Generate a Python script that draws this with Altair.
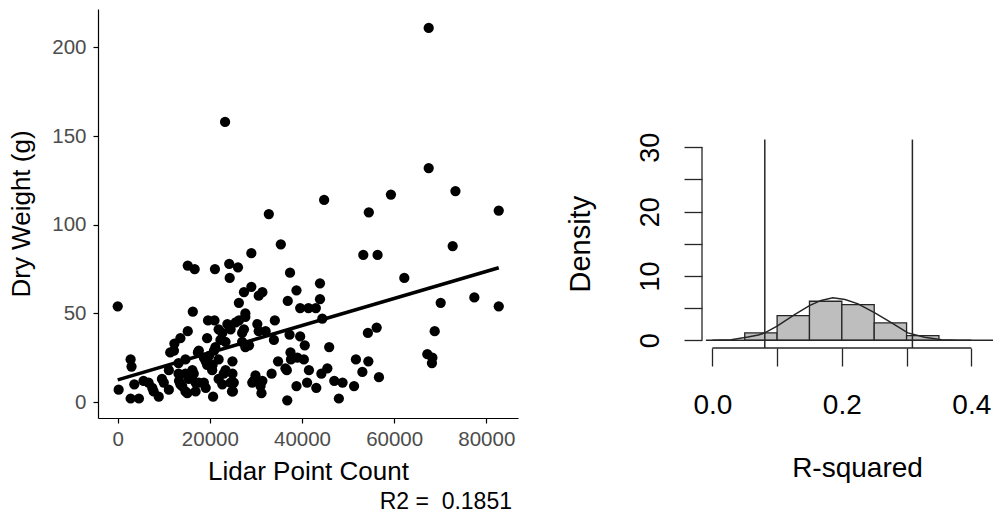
import altair as alt
import pandas as pd

FONT = "Liberation Sans"

# ---------------- Left panel: scatter of dry weight vs lidar point count
lidar_count = [
    67500, 23300, 67500, 73300, 44800, 59300, 32800, 54500, 82700, 35400,
    72700, 29000, 53300, 56400, 15200, 16700, 21100, 24200, 26100, 24300,
    37400, 62200, 43900, 29000, 27400, 38800, 31400, 30600, 26300, 36900,
    43900, 70100, 77400, 0, 82700, 16300, 39600, 41400, 43000, 44400,
    27700, 25600, 19600, 21000, 23800, 30300, 34100, 15200, 32100, 24500,
    22700, 56200, 54300, 68800, 19400, 13600, 33900, 37300, 39600, 40600,
    27700, 12300, 11400, 17400, 45900, 37500, 39000, 40400, 67200, 68300,
    68200, 2800, 3000, 34800, 51700, 54400, 24900, 19100, 20600, 45500,
    53100, 56700, 41500, 36700, 33400, 29900, 44200, 47000, 48800, 51300,
    41100, 38800, 43100, 36800, 48000, 31200, 20700, 25000, 200, 2800,
    4600, 3600, 5600, 7500, 8900, 10000, 11100, 13300, 14700, 14700,
    16200, 16900, 18700, 19100, 22700, 23000, 24900, 25200, 29200, 31400,
    20500, 11100, 13600, 21200, 18700, 22300, 27000, 30600, 27700, 12200,
    21900, 23400, 17600, 19800, 20900, 6700, 7800, 9600, 15400, 14000,
    15100, 16500, 17600, 16900, 21900, 23400, 24500, 24800, 19400, 21900,
    14700, 13200, 26300, 27400, 28500, 27000, 37600, 36400, 29500, 31000,
    13200,
]
dry_weight = [
    211, 158, 132, 119, 114, 117, 106, 107, 108, 89,
    88, 84, 83, 83, 77, 75, 75, 78, 76, 70,
    73, 70, 67, 65, 62, 63, 62, 60, 56, 57,
    58, 56, 59, 54, 54, 51, 53, 53, 53, 47,
    48, 45, 46, 46, 44, 44, 46, 40, 40, 41,
    39, 42, 39, 40, 36, 36, 35, 38, 37, 32,
    31, 33, 28, 28, 31, 28, 25, 24, 27, 25,
    22, 24, 20, 23, 24, 23, 23, 23, 21, 19,
    17, 14, 18, 18, 16, 15, 16, 12, 11, 9,
    11, 9, 8, 1, 2, 5, 3, 6, 7, 2,
    2, 10, 12, 8, 3, 11, 7, 12, 6, 16,
    18, 11, 11, 8, 10, 16, 16, 11, 11, 12,
    18, 18, 10, 31, 25, 35, 39, 40, 50, 29,
    41, 34, 29, 26, 29, 11, 6, 13, 13, 9,
    5, 16, 11, 6, 13, 18, 11, 6, 21, 24,
    24, 22, 46, 41, 32, 34, 24, 19, 12, 9,
    16,
]
fit_x = [0, 82700]
fit_y = [12.5, 75.8]
r2_caption = "R2 =\u00a0 0.1851"
left_x_ticks = [0, 20000, 40000, 60000, 80000]
left_y_ticks = [0, 50, 100, 150, 200]

# ---------------- Right panel: bootstrap R-squared histogram
bin_start = [0.05, 0.10, 0.15, 0.20, 0.25, 0.30]
bin_end = [0.10, 0.15, 0.20, 0.25, 0.30, 0.35]
bin_density = [1.15, 3.84, 6.07, 5.55, 2.70, 0.73]
curve_x = [0.0, 0.029, 0.055, 0.071, 0.081, 0.10, 0.127, 0.150, 0.168, 0.186,
           0.205, 0.225, 0.251, 0.277, 0.302, 0.328, 0.354, 0.38, 0.40]
curve_y = [0.02, 0.1, 0.5, 0.83, 1.15, 2.2, 4.0, 5.4, 6.2, 6.6,
           6.33, 5.66, 4.26, 2.7, 1.15, 0.47, 0.1, 0.02, 0.0]
ci_bounds = [0.081, 0.309]
plot_region_y = [-1.2, 31.2]
zero_line_x = [-0.01, 0.4335]
right_x_ticks = [0.0, 0.1, 0.2, 0.3, 0.4]
right_y_ticks = [0, 5, 10, 15, 20, 25, 30]

# ---------------- data frames
scatter_df = pd.DataFrame({"x": lidar_count, "y": dry_weight})
fit_df = pd.DataFrame({"x": fit_x, "y": fit_y})
hist_df = pd.DataFrame({"x1": bin_start, "x2": bin_end, "d": bin_density})
curve_df = pd.DataFrame({"x": curve_x, "y": curve_y})
ci_df = pd.DataFrame({"x": ci_bounds, "y1": [plot_region_y[0]] * 2, "y2": [plot_region_y[1]] * 2})
zero_df = pd.DataFrame({"x1": [zero_line_x[0]], "x2": [zero_line_x[1]], "y": [0]})
xaxis_line_df = pd.DataFrame({"x1": [right_x_ticks[0]], "x2": [right_x_ticks[-1]], "y": [plot_region_y[0]]})
yaxis_line_df = pd.DataFrame({"x": [-0.016], "y1": [right_y_ticks[0]], "y2": [right_y_ticks[-1]]})

# ---------------- left chart
lx_scale = alt.Scale(domain=[-4280, 86880], nice=False, zero=False)
ly_scale = alt.Scale(domain=[-9, 221.7], nice=False, zero=False)

lx_axis = alt.Axis(
    values=left_x_ticks, format="d", title="Lidar Point Count", grid=False,
    domainColor="black", domainWidth=1.2, tickColor="black", tickWidth=1.2, tickSize=5,
    labelColor="#4d4d4d", labelFont=FONT, labelFontSize=20.5, labelBaseline="alphabetic",
    labelPadding=22.7, labelFlush=False,
    titleFont=FONT, titleFontSize=26, titleFontWeight="normal", titleColor="black",
    titleBaseline="alphabetic", titleY=61.7,
)
ly_axis = alt.Axis(
    values=left_y_ticks, title="Dry Weight (g)", grid=False,
    domainColor="black", domainWidth=1.2, tickColor="black", tickWidth=1.2, tickSize=5,
    labelColor="#4d4d4d", labelFont=FONT, labelFontSize=20.5, labelPadding=7,
    labelFlush=False,
    titleFont=FONT, titleFontSize=26, titleFontWeight="normal", titleColor="black",
    titleBaseline="middle", titleX=-77, titleY=204.5,
)

points = alt.Chart(scatter_df).mark_circle(size=105, color="black", opacity=1).encode(
    x=alt.X("x:Q", scale=lx_scale, axis=lx_axis),
    y=alt.Y("y:Q", scale=ly_scale, axis=ly_axis),
)
fit_line = alt.Chart(fit_df).mark_line(color="black", strokeWidth=3.6).encode(
    x=alt.X("x:Q", scale=lx_scale),
    y=alt.Y("y:Q", scale=ly_scale),
)
left = alt.layer(points, fit_line).properties(
    width=420, height=409,
    title=alt.TitleParams(
        r2_caption, orient="bottom", anchor="end", font=FONT, fontSize=23,
        fontWeight="normal", color="black", offset=6, dx=-6,
    ),
)

# ---------------- right chart
rx_scale = alt.Scale(domain=[-0.016, 0.4335], nice=False, zero=False)
ry_scale = alt.Scale(domain=[-1.2, 51.5], nice=False, zero=False)
DARK = "#262626"

rx_axis = alt.Axis(
    values=right_x_ticks, title="R-squared", grid=False, domain=False,
    tickColor=DARK, tickWidth=1.3, tickSize=18,
    labelExpr="(round(datum.value * 10) % 2 == 0) ? format(datum.value, '.1f') : ''",
    labelColor="black", labelFont=FONT, labelFontSize=28, labelBaseline="alphabetic",
    labelPadding=47, labelFlush=False,
    titleFont=FONT, titleFontSize=28, titleFontWeight="normal", titleColor="black",
    titleBaseline="alphabetic", titleX=155, titleY=128,
)
ry_axis = alt.Axis(
    values=right_y_ticks, title="Density", grid=False, domain=False,
    tickColor=DARK, tickWidth=1.3, tickSize=18,
    labelExpr="(datum.value % 10 == 0) ? datum.label : ''",
    labelAngle=270, labelAlign="center", labelBaseline="alphabetic",
    labelColor="black", labelFont=FONT, labelFontSize=27, labelPadding=26,
    labelFlush=False,
    titleFont=FONT, titleFontSize=29, titleFontWeight="normal", titleColor="black",
    titleBaseline="middle", titleX=-122, titleY=234.7,
)

bars = alt.Chart(hist_df).mark_rect(color="#bebebe", stroke=DARK, strokeWidth=1.3).encode(
    x=alt.X("x1:Q", scale=rx_scale, axis=rx_axis),
    x2="x2:Q",
    y=alt.Y("d:Q", scale=ry_scale, axis=ry_axis),
    y2=alt.datum(0),
)
curve = alt.Chart(curve_df).mark_line(color=DARK, strokeWidth=1.5).encode(
    x=alt.X("x:Q", scale=rx_scale),
    y=alt.Y("y:Q", scale=ry_scale),
)
zero_line = alt.Chart(zero_df).mark_rule(color=DARK, strokeWidth=1.4).encode(
    x=alt.X("x1:Q", scale=rx_scale), x2="x2:Q", y=alt.Y("y:Q", scale=ry_scale),
)
ci_lines = alt.Chart(ci_df).mark_rule(color=DARK, strokeWidth=1.5).encode(
    x=alt.X("x:Q", scale=rx_scale), y=alt.Y("y1:Q", scale=ry_scale), y2="y2:Q",
)
x_axis_line = alt.Chart(xaxis_line_df).mark_rule(color=DARK, strokeWidth=1.3).encode(
    x=alt.X("x1:Q", scale=rx_scale), x2="x2:Q", y=alt.Y("y:Q", scale=ry_scale),
)
y_axis_line = alt.Chart(yaxis_line_df).mark_rule(color=DARK, strokeWidth=1.3).encode(
    x=alt.X("x:Q", scale=rx_scale), y=alt.Y("y1:Q", scale=ry_scale), y2="y2:Q",
)
right = alt.layer(bars, curve, zero_line, ci_lines, x_axis_line, y_axis_line).properties(
    width=291, height=339,
)

chart = alt.hconcat(left, right, spacing=48).properties(
    padding={"left": 8, "top": 9, "right": 0, "bottom": 0},
    background="white",
).configure_view(stroke=None)

chart.save("out.html", embed_options={"renderer": "svg", "actions": False})
